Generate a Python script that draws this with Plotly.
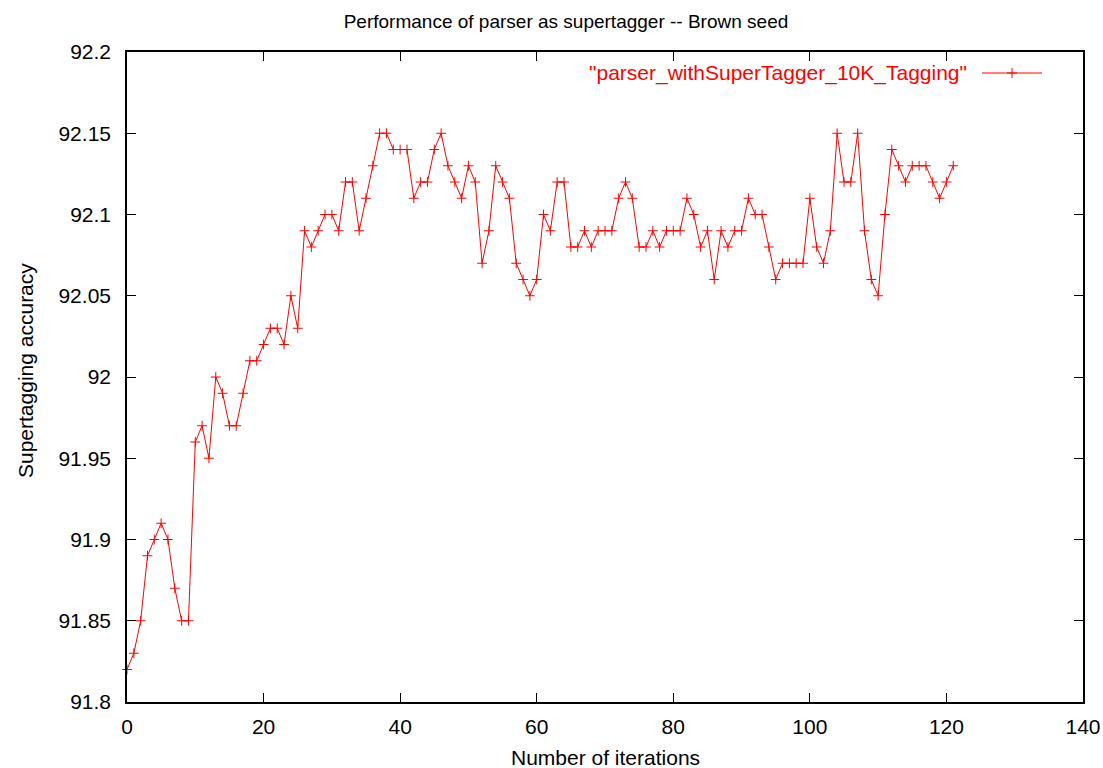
import plotly.graph_objects as go

iterations = list(range(0, 122))
accuracy = [
    91.82, 91.83, 91.85, 91.89, 91.90, 91.91, 91.90, 91.87, 91.85, 91.85,
    91.96, 91.97, 91.95, 92.00, 91.99, 91.97, 91.97, 91.99, 92.01, 92.01,
    92.02, 92.03, 92.03, 92.02, 92.05, 92.03, 92.09, 92.08, 92.09, 92.10,
    92.10, 92.09, 92.12, 92.12, 92.09, 92.11, 92.13, 92.15, 92.15, 92.14,
    92.14, 92.14, 92.11, 92.12, 92.12, 92.14, 92.15, 92.13, 92.12, 92.11,
    92.13, 92.12, 92.07, 92.09, 92.13, 92.12, 92.11, 92.07, 92.06, 92.05,
    92.06, 92.10, 92.09, 92.12, 92.12, 92.08, 92.08, 92.09, 92.08, 92.09,
    92.09, 92.09, 92.11, 92.12, 92.11, 92.08, 92.08, 92.09, 92.08, 92.09,
    92.09, 92.09, 92.11, 92.10, 92.08, 92.09, 92.06, 92.09, 92.08, 92.09,
    92.09, 92.11, 92.10, 92.10, 92.08, 92.06, 92.07, 92.07, 92.07, 92.07,
    92.11, 92.08, 92.07, 92.09, 92.15, 92.12, 92.12, 92.15, 92.09, 92.06,
    92.05, 92.10, 92.14, 92.13, 92.12, 92.13, 92.13, 92.13, 92.12, 92.11,
    92.12, 92.13,
]

x_tick_vals = [0, 20, 40, 60, 80, 100, 120, 140]
x_tick_text = ["0", "20", "40", "60", "80", "100", "120", "140"]
y_tick_vals = [91.8, 91.85, 91.9, 91.95, 92.0, 92.05, 92.1, 92.15, 92.2]
y_tick_text = ["91.8", "91.85", "91.9", "91.95", "92", "92.05", "92.1", "92.15", "92.2"]

series_name = '"parser_withSuperTagger_10K_Tagging"'
title_text = "Performance of parser as supertagger -- Brown seed"
x_label = "Number of iterations"
y_label = "Supertagging accuracy"

RED = "#ff0000"
FONT = "Liberation Sans, Arial, sans-serif"
FS = 21

W, H = 1103, 768
L, R, T, B = 127, 20, 52, 66

fig = go.Figure()
fig.add_trace(go.Scatter(
    x=iterations, y=accuracy, mode="lines+markers",
    line=dict(color=RED, width=1),
    marker=dict(symbol="cross-thin", size=7, line=dict(color=RED, width=1), color=RED),
    showlegend=False, cliponaxis=False,
))

axis_common = dict(
    showline=True, linecolor="black", linewidth=1.6, mirror="allticks",
    ticks="inside", ticklen=9, tickwidth=1.2, tickcolor="black",
    showgrid=False, zeroline=False, automargin=False,
    tickfont=dict(family=FONT, size=FS, color="black"),
)

fig.update_xaxes(range=[0, 140], tickvals=x_tick_vals, ticktext=x_tick_text,
                 ticklabelstandoff=5, **axis_common)
fig.update_yaxes(range=[91.8, 92.2], tickvals=y_tick_vals, ticktext=y_tick_text,
                 ticklabelstandoff=10, **axis_common)

pw = W - L - R
ph = H - T - B

def px_x(p):
    return (p - L) / pw

def px_y(p):
    return 1 - (p - T) / ph

# axis titles
fig.add_annotation(text=x_label, xref="paper", yref="paper",
                   x=px_x(605), y=px_y(757), xanchor="center", yanchor="middle",
                   showarrow=False, font=dict(family=FONT, size=FS, color="black"))
fig.add_annotation(text=y_label, xref="paper", yref="paper", textangle=-90,
                   x=px_x(25), y=px_y(371), xanchor="center", yanchor="middle",
                   showarrow=False, font=dict(family=FONT, size=FS, color="black"))

# legend (gnuplot style: text on the left, sample on the right)
fig.add_annotation(text=series_name, xref="paper", yref="paper",
                   x=px_x(969), y=px_y(73), xanchor="right", yanchor="middle",
                   showarrow=False, font=dict(family=FONT, size=FS, color=RED))
fig.add_shape(type="line", xref="paper", yref="paper",
              x0=px_x(982), x1=px_x(1042), y0=px_y(73), y1=px_y(73),
              line=dict(color=RED, width=1))
fig.add_shape(type="line", xref="paper", yref="paper",
              x0=px_x(1007), x1=px_x(1017), y0=px_y(73), y1=px_y(73),
              line=dict(color=RED, width=1))
fig.add_shape(type="line", xref="paper", yref="paper",
              x0=px_x(1012), x1=px_x(1012), y0=px_y(68), y1=px_y(78),
              line=dict(color=RED, width=1))

fig.update_layout(
    width=W, height=H,
    margin=dict(l=L, r=R, t=T, b=B),
    paper_bgcolor="white", plot_bgcolor="white",
    font=dict(family=FONT, size=FS, color="black"),
    title=dict(text=title_text, xref="container", yref="container",
               x=566 / W, y=1 - 21 / H, xanchor="center", yanchor="middle",
               font=dict(family=FONT, size=19, color="black")),
)

fig.write_html("out.html")
